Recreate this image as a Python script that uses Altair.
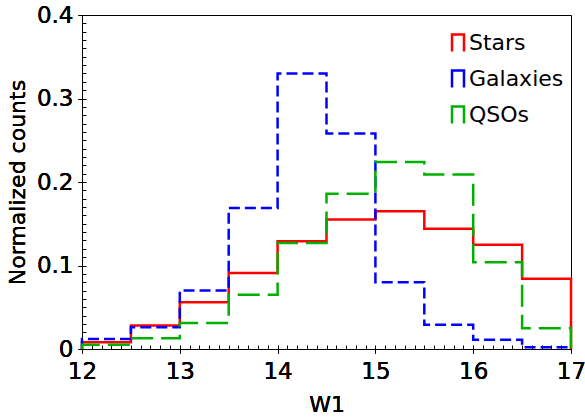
import altair as alt
import pandas as pd

# W1 magnitude bin edges (0.5 mag bins) and normalized counts per class
edges = [12.0, 12.5, 13.0, 13.5, 14.0, 14.5, 15.0, 15.5, 16.0, 16.5, 17.0]
stars = [0.008, 0.028, 0.056, 0.091, 0.129, 0.155, 0.165, 0.144, 0.125, 0.084]
galaxies = [0.012, 0.026, 0.070, 0.169, 0.330, 0.258, 0.080, 0.029, 0.011, 0.002]
qsos = [0.005, 0.013, 0.031, 0.065, 0.127, 0.186, 0.224, 0.209, 0.104, 0.025]

classes = ["Stars", "Galaxies", "QSOs"]
colors = ["#ff0000", "#0000ff", "#00b000"]
dashes = [[1, 0], [11, 5], [22, 8]]

x_ticks = [12, 13, 14, 15, 16, 17]
y_ticks = [0, 0.1, 0.2, 0.3, 0.4]
x_minor = [round(12 + 0.1 * i, 1) for i in range(51)]
y_minor = [round(0.01 * i, 2) for i in range(41)]

FONT = "DejaVu Sans"
W, H = 489, 334


def step_rows(name, counts):
    # outline of a step histogram: rise at the first edge, fall at the last
    pts = [(edges[0], 0.0)]
    pts += [(edges[i], c) for i, c in enumerate(counts)]
    pts += [(edges[-1], counts[-1]), (edges[-1], 0.0)]
    return [
        {"cls": name, "W1": x, "count": y, "k": k}
        for k, (x, y) in enumerate(pts)
    ]


rows = []
for name, vals in zip(classes, [stars, galaxies, qsos]):
    rows += step_rows(name, vals)
df = pd.DataFrame(rows)

x_scale = alt.Scale(domain=[12, 17], nice=False, zero=False, padding=0)
y_scale = alt.Scale(domain=[0, 0.4], nice=False, padding=0)

x_axis = alt.Axis(
    orient="bottom", values=x_ticks, format="d", tickSize=4,
    labelPadding=7, labelFontSize=23, labelFlush=False,
    title="W1", titleFontSize=22, titleFontWeight="normal", titlePadding=11,
)
y_axis = alt.Axis(
    orient="left", values=y_ticks, tickSize=4, labelPadding=5,
    labelFontSize=23, labelFlush=False,
    labelExpr="datum.value == 0 ? '0' : format(datum.value, '.1f')",
    title="Normalized counts", titleFontSize=22,
    titleFontWeight="normal", titlePadding=7,
)
legend = alt.Legend(
    title=None, orient="none", legendX=365, legendY=17,
    symbolType="M-1.09,1.55V-1.55H1.09V1.55", symbolSize=121,
    symbolStrokeWidth=2.5, symbolFillColor="transparent",
    symbolDash=[1, 0], labelFontSize=22, labelOffset=0,
    rowPadding=8, padding=0,
)
color = alt.Color(
    "cls:N", scale=alt.Scale(domain=classes, range=colors), legend=legend
)

# one step outline per class, drawn in order so later classes sit on top
layers = []
for name, dash in zip(classes, dashes):
    layers.append(
        alt.Chart(df)
        .transform_filter(alt.datum.cls == name)
        .mark_line(
            interpolate="step-after", strokeWidth=2.5, strokeDash=dash,
            strokeJoin="miter", strokeCap="butt",
        )
        .encode(
            x=alt.X("W1:Q", scale=x_scale, axis=x_axis),
            y=alt.Y("count:Q", scale=y_scale, axis=y_axis),
            color=color,
            order="k:Q",
        )
    )

# inward-pointing minor ticks on the left and bottom spines
inner = alt.Chart(df).mark_point(opacity=0, size=0).encode(
    x=alt.X(
        "W1:Q",
        scale=x_scale,
        axis=alt.Axis(
            orient="top", offset=-H, values=x_minor, tickSize=4,
            labels=False, domain=False, title=None, grid=False,
        ),
    ),
    y=alt.Y(
        "count:Q",
        scale=y_scale,
        axis=alt.Axis(
            orient="right", offset=-W, values=y_minor, tickSize=4,
            labels=False, domain=False, title=None, grid=False,
        ),
    ),
)

chart = (
    alt.layer(*layers, inner)
    .properties(
        width=W,
        height=H,
        autosize=alt.AutoSizeParams(type="none"),
        padding={"left": 82, "top": 15, "right": 14, "bottom": 68},
    )
    .configure(font=FONT, background="white")
    .configure_view(stroke="black", strokeWidth=1)
    .configure_axis(
        grid=False, domainColor="black", domainWidth=1, tickColor="black",
        tickWidth=1, labelColor="black", titleColor="black", labelFont=FONT,
        titleFont=FONT,
    )
    .configure_legend(labelColor="black", labelFont=FONT)
)

chart.save("out.html", embed_options={"renderer": "svg", "actions": False})
